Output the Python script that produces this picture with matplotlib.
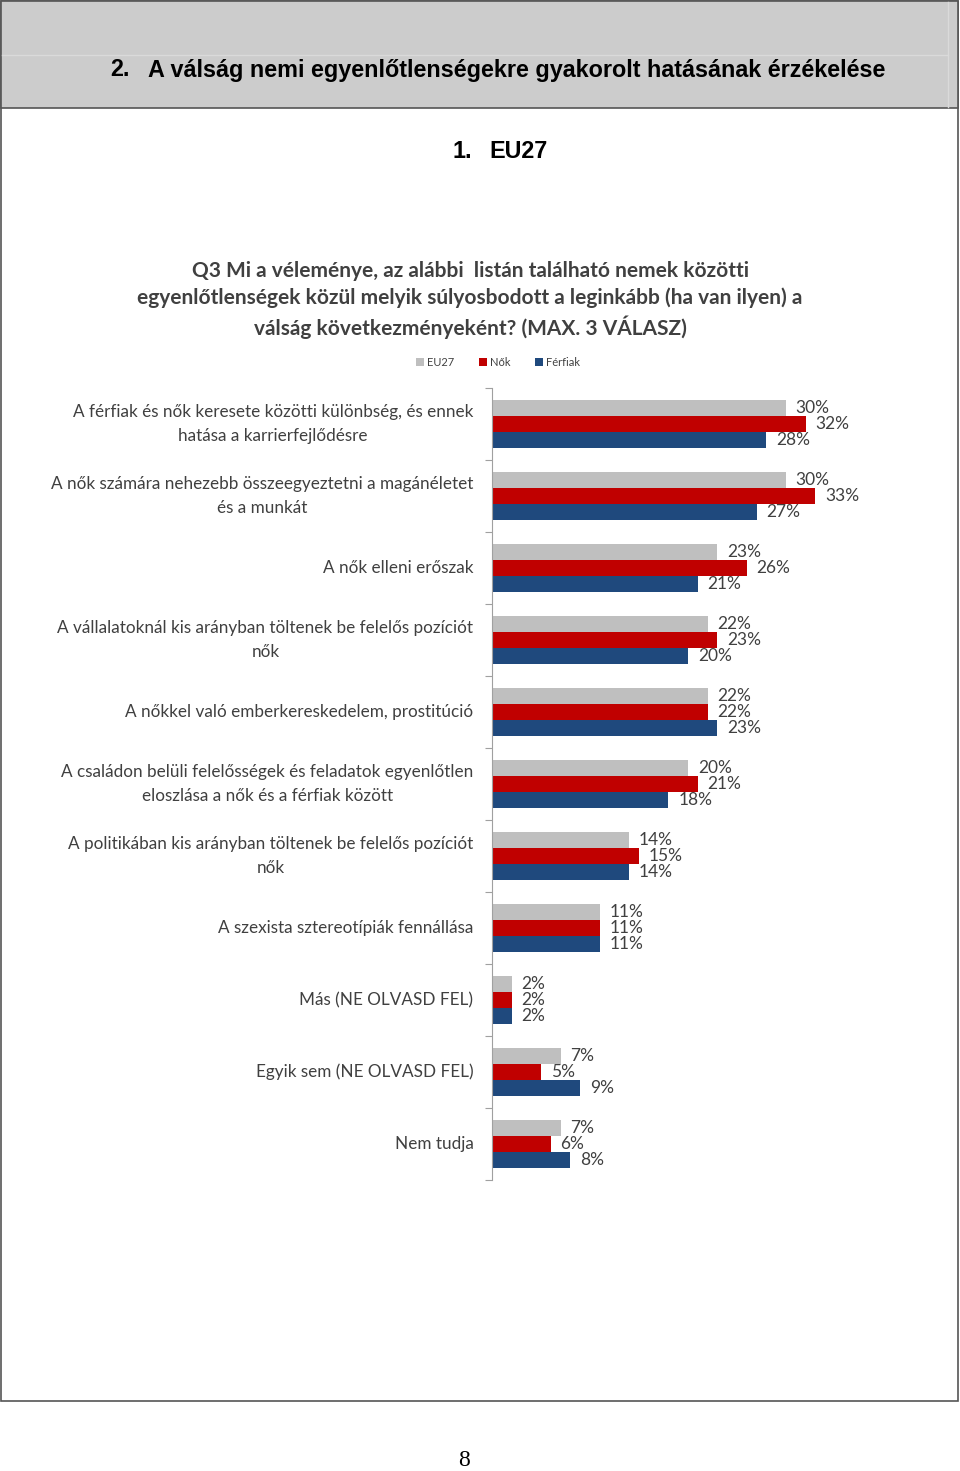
import numpy as np
import matplotlib
matplotlib.use('Agg')
import matplotlib.pyplot as plt
from matplotlib.patches import Rectangle
from matplotlib.lines import Line2D

categories = [
    'A férfiak és nők keresete közötti különbség, és ennek\nhatása a karrierfejlődésre',
    'A nők számára nehezebb összeegyeztetni a magánéletet\nés a munkát',
    'A nők elleni erőszak',
    'A vállalatoknál kis arányban töltenek be felelős pozíciót\nnők',
    'A nőkkel való emberkereskedelem, prostitúció',
    'A családon belüli felelősségek és feladatok egyenlőtlen\neloszlása a nők és a férfiak között',
    'A politikában kis arányban töltenek be felelős pozíciót\nnők',
    'A szexista sztereotípiák fennállása',
    'Más (NE OLVASD FEL)',
    'Egyik sem (NE OLVASD FEL)',
    'Nem tudja',
]
eu27 = [30, 30, 23, 22, 22, 20, 14, 11, 2, 7, 7]
nok = [32, 33, 26, 23, 22, 21, 15, 11, 2, 5, 6]
ferfiak = [28, 27, 21, 20, 23, 18, 14, 11, 2, 9, 8]
series_names = ['EU27', 'Nők', 'Férfiak']
colors = ['#BFBFBF', '#C00000', '#1F497D']

W, H = 960, 1471
fig = plt.figure(figsize=(W / 100, H / 100), dpi=100)

def fx(px):
    return px / W

def fy(py):
    return 1 - py / H

# page frame and header band
fig.patches.append(Rectangle((fx(1), fy(1401)), fx(957), (1400) / H, transform=fig.transFigure,
                             facecolor='none', edgecolor='#555555', lw=1.2))
fig.patches.append(Rectangle((fx(1), fy(108)), fx(957), 107 / H, transform=fig.transFigure,
                             facecolor='#CCCCCC', edgecolor='#555555', lw=1.2))
fig.lines.append(Line2D([fx(2), fx(948)], [fy(55), fy(55)], transform=fig.transFigure,
                        color='#DADADA', lw=1))
fig.lines.append(Line2D([fx(948), fx(948)], [fy(2), fy(107)], transform=fig.transFigure,
                        color='#DADADA', lw=1))

hdr = dict(fontsize=16.8, fontweight='bold', family='Liberation Sans', ha='left', va='center')
fig.text(fx(110), fy(70), '2.', **hdr)
fig.text(fx(148), fy(70), 'A válság nemi egyenlőtlenségekre gyakorolt hatásának érzékelése', **hdr)
fig.text(fx(452), fy(152), '1.', **hdr)
fig.text(fx(489), fy(152), 'EU27', **hdr)
fig.text(fx(464), fy(1461), '8', fontsize=17, family='Liberation Serif', ha='center', va='center')

# chart title
fig.text(fx(470), fy(300),
         'Q3 Mi a véleménye, az alábbi  listán található nemek közötti\n'
         'egyenlőtlenségek közül melyik súlyosbodott a leginkább (ha van ilyen) a\n'
         'válság következményeként? (MAX. 3 VÁLASZ)',
         fontsize=15, fontweight='bold', family='Lato', color='#404040',
         ha='center', va='center', linespacing=1.38)

ax = fig.add_axes([fx(492), fy(1180), fx(392), (1180 - 388) / H])
y = np.arange(len(categories))
h = 0.222
bars = []
for k, (vals, c) in enumerate(zip([eu27, nok, ferfiak], colors)):
    b = ax.barh(y + (k - 1) * h, vals, height=h, color=c, label=series_names[k])
    bars.append(b)
    for yi, v in zip(y + (k - 1) * h, vals):
        ax.text(v + 1.0, yi, f'{v}%', fontsize=12.5, family='Lato', color='#404040',
                va='center', ha='left')

ax.set_xlim(0, 40)
ax.set_ylim(len(categories) - 0.5, -0.5)
for s in ['top', 'right', 'bottom']:
    ax.spines[s].set_visible(False)
ax.spines['left'].set_color('#A0A0A0')
ax.set_xticks([])
ax.set_yticks(np.arange(-0.5, len(categories) + 0.5, 1))
ax.set_yticklabels([])
ax.tick_params(axis='y', length=5, color='#A0A0A0')
for yi, lab in zip(y, categories):
    ax.text(-1.9, yi, lab, fontsize=12.3, family='Lato', color='#404040',
            ha='right', va='center', multialignment='center', linespacing=1.6)

fig.legend(handles=bars, labels=series_names, loc='center', bbox_to_anchor=(fx(498), fy(362)),
           ncol=3, frameon=False, prop={'family': 'Lato', 'size': 8}, handlelength=0.7,
           handleheight=0.7, handletextpad=0.3, columnspacing=2.2, labelcolor='#404040')

fig.savefig('out.png', dpi=100)
